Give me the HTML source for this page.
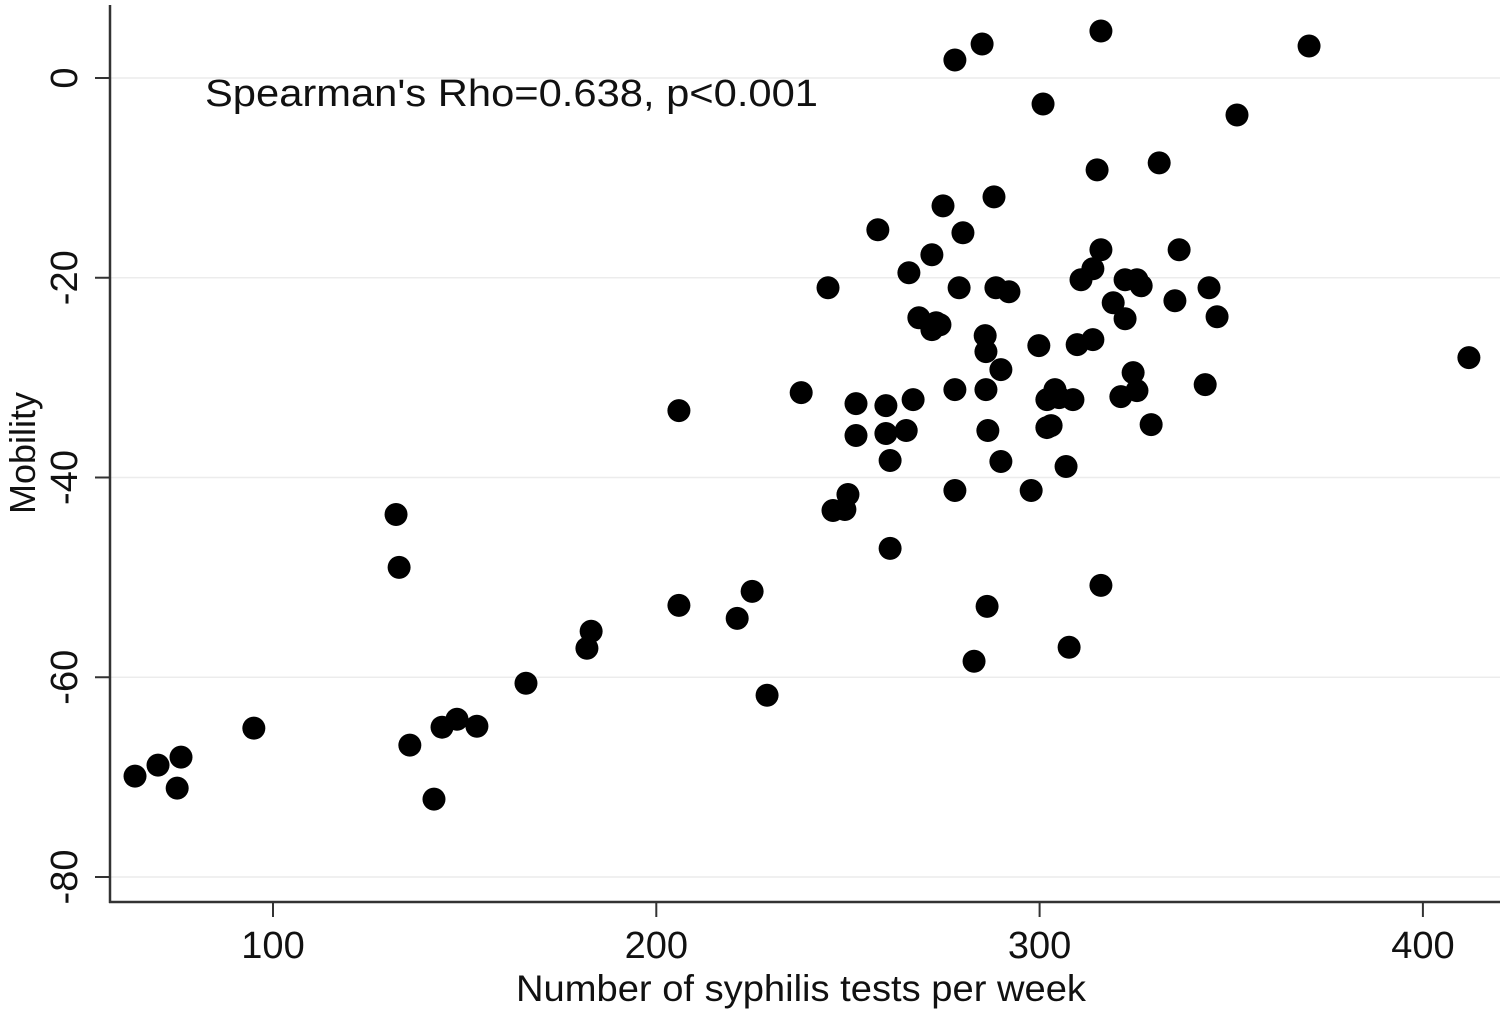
<!DOCTYPE html>
<html><head><meta charset="utf-8"><style>
html,body{margin:0;padding:0;background:#fff;}
svg{display:block;font-family:"Liberation Sans",Arial,sans-serif;}
</style></head><body>
<svg id="chart" width="1500" height="1016" viewBox="0 0 1500 1016">
<g id="grid"></g>
<g id="axes"></g>
<g id="points"></g>
<text x="205" y="106" font-size="38" textLength="613" lengthAdjust="spacingAndGlyphs" fill="#111">Spearman's Rho=0.638, p&lt;0.001</text>
<text x="801" y="1001" font-size="37" textLength="570" lengthAdjust="spacingAndGlyphs" text-anchor="middle" fill="#111">Number of syphilis tests per week</text>
<text transform="translate(35,453) rotate(-90)" font-size="36" text-anchor="middle" fill="#111">Mobility</text>
</svg>
<script>
const xTicks=[100,200,300,400];
const yTicks=[0,-20,-40,-60,-80];
const xTickLabels=["100","200","300","400"];
const yTickLabels=["0","-20","-40","-60","-80"];
const testsPerWeek=[64.0,70.0,76.0,75.0,95.0,132.1,132.9,135.7,142.0,144.1,148.0,153.2,166.0,181.9,183.0,205.9,205.9,221.1,225.0,228.9,237.8,244.8,246.1,249.2,250.0,252.1,252.1,257.8,259.9,259.9,261.0,261.0,265.2,265.9,267.0,268.5,271.9,271.9,273.0,274.0,274.8,277.9,277.9,277.9,279.0,280.0,282.9,285.0,285.8,286.0,286.0,286.5,286.3,288.1,288.6,289.9,289.9,292.0,297.8,299.8,300.9,301.9,301.9,303.0,304.0,305.1,306.9,307.7,308.7,309.8,310.8,313.9,313.9,315.0,316.0,316.0,316.0,319.2,321.2,322.3,322.3,324.4,325.4,325.4,326.5,329.1,331.2,335.3,336.4,343.2,344.2,346.3,351.5,370.3,412.0];
const mobility=[-69.9,-68.8,-68.0,-71.1,-65.1,-43.7,-49.0,-66.8,-72.2,-65.0,-64.2,-64.9,-60.6,-57.1,-55.4,-33.3,-52.8,-54.1,-51.4,-61.8,-31.5,-21.0,-43.3,-43.2,-41.7,-32.6,-35.8,-15.2,-32.8,-35.6,-38.3,-47.1,-35.3,-19.5,-32.2,-24.0,-17.7,-25.2,-24.5,-24.7,-12.8,1.8,-31.2,-41.3,-21.0,-15.5,-58.4,3.4,-25.8,-31.2,-27.4,-35.3,-52.9,-11.9,-21.0,-29.2,-38.4,-21.4,-41.3,-26.8,-2.6,-32.2,-35.0,-34.8,-31.2,-32.0,-38.9,-57.0,-32.2,-26.7,-20.2,-26.2,-19.1,-9.2,4.7,-17.2,-50.8,-22.5,-31.9,-24.1,-20.2,-29.5,-20.2,-31.3,-20.8,-34.7,-8.5,-22.3,-17.2,-30.7,-21.0,-23.9,-3.7,3.2,-28.0];

const NS="http://www.w3.org/2000/svg";
const X=v=>273+(v-100)*3.833;
const Y=v=>78-v*9.9875;
const L=110,B=902,T=5,R=1500;
function mk(tag,attrs,parent){const e=document.createElementNS(NS,tag);for(const k in attrs)e.setAttribute(k,attrs[k]);parent.appendChild(e);return e;}
const grid=document.getElementById('grid'),axes=document.getElementById('axes'),pts=document.getElementById('points');
yTicks.forEach((v,i)=>{
  const gl=mk('line',{x1:L,x2:R,y1:Y(v),y2:Y(v),stroke:'#ececec','stroke-width':1.5},grid);
  
  
  const tk=mk('line',{x1:L-15,x2:L,y1:Y(v),y2:Y(v),stroke:'#333','stroke-width':2},axes);
  
  
  const t=mk('text',{transform:`translate(77,${Y(v)}) rotate(-90)`,'text-anchor':'middle','font-size':38,fill:'#111'},axes);
  t.textContent=yTickLabels[i];
  
  
});
xTicks.forEach((v,i)=>{
  const tk=mk('line',{x1:X(v),x2:X(v),y1:B,y2:B+15,stroke:'#333','stroke-width':2},axes);
  
  
  const t=mk('text',{x:X(v),y:958,'text-anchor':'middle','font-size':38,fill:'#111'},axes);
  t.textContent=xTickLabels[i];
  
  
});
const ya=mk('line',{x1:L,x2:L,y1:T,y2:B+1,stroke:'#333','stroke-width':2.5},axes);


const xa=mk('line',{x1:L-1,x2:R,y1:B,y2:B,stroke:'#333','stroke-width':2.5},axes);


testsPerWeek.forEach((v,i)=>{
  const c=mk('circle',{cx:X(v),cy:Y(mobility[i]),r:11.5,fill:'#000'},pts);
  
  
});
</script>
</body></html>
